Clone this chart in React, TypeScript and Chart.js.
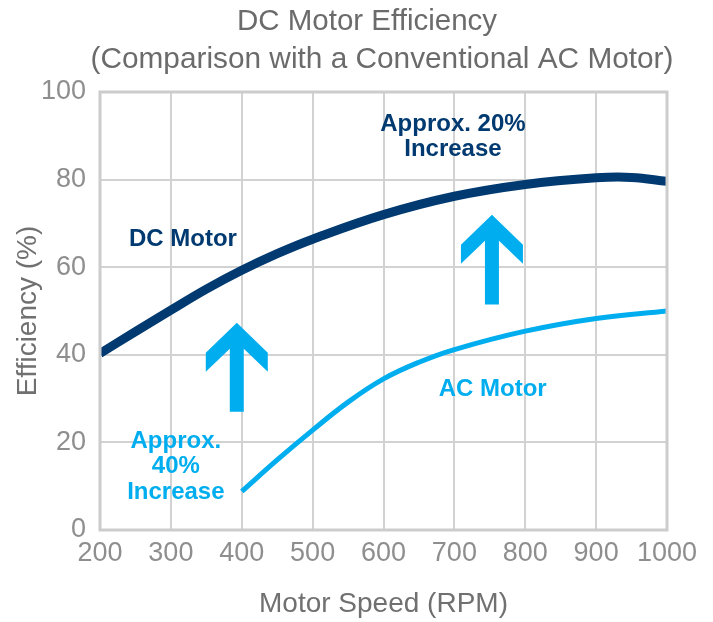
import React, { useEffect, useRef } from "react";
import { Chart, registerables } from "chart.js";

Chart.register(...registerables);

const TITLE = "DC Motor Efficiency";
const SUBTITLE = "(Comparison with a Conventional AC Motor)";
const X_TITLE = "Motor Speed (RPM)";
const Y_TITLE = "Efficiency (%)";

const DC_SPEED = [200, 250, 300, 350, 400, 450, 500, 600, 700, 800, 900, 950, 1000];
const DC_EFF = [40.3, 45.3, 50.2, 55.0, 59.3, 63.1, 66.4, 72.0, 76.2, 78.9, 80.4, 80.5, 79.6];

const AC_SPEED = [400, 450, 500, 550, 600, 650, 700, 800, 900, 1000];
const AC_EFF = [8.8, 16.0, 22.8, 29.2, 34.5, 38.3, 41.2, 45.4, 48.3, 50.0];

// Arrows: x (RPM), from (%) -> to (%)
const ARROW_X = [393, 753];
const ARROW_FROM = [27.0, 51.5];
const ARROW_TO = [47.3, 72.0];

// Annotations anchored in data coordinates
const NOTE_TEXT = [
  ["DC Motor"],
  ["Approx. 20%", "Increase"],
  ["AC Motor"],
  ["Approx.", "40%", "Increase"],
];
const NOTE_X = [317, 698, 754, 307];
const NOTE_Y = [66.4, 89.8, 32.0, 14.5];
const NOTE_COLOR = ["#003a70", "#003a70", "#00aeef", "#00aeef"];

const DARK = "#003a70";
const LIGHT = "#00aeef";
const FONT = "'Liberation Sans', Arial, Helvetica, sans-serif";

const titlePlugin = {
  id: "titles",
  afterDraw(chart: any) {
    const { ctx } = chart;
    ctx.save();
    ctx.fillStyle = "#6b6b6b";
    ctx.textAlign = "center";
    ctx.textBaseline = "middle";
    ctx.font = `29.5px ${FONT}`;
    ctx.fillText(TITLE, 367, 22);
    ctx.font = `29.8px ${FONT}`;
    ctx.fillText(SUBTITLE, 382, 60);
    ctx.restore();
  },
};

const framePlugin = {
  id: "frame",
  afterDatasetsDraw(chart: any) {
    const { ctx, chartArea } = chart;
    ctx.save();
    ctx.strokeStyle = "#cccccc";
    ctx.lineWidth = 3;
    ctx.strokeRect(chartArea.left, chartArea.top, chartArea.right - chartArea.left, chartArea.bottom - chartArea.top);
    ctx.restore();
  },
};

const arrowPlugin = {
  id: "arrows",
  afterDatasetsDraw(chart: any) {
    const { ctx, scales } = chart;
    const xs = scales.x;
    const ys = scales.y;
    ctx.save();
    ctx.fillStyle = LIGHT;
    for (let i = 0; i < ARROW_X.length; i++) {
      const cx = xs.getPixelForValue(ARROW_X[i]);
      const tip = ys.getPixelForValue(ARROW_TO[i]);
      const bot = ys.getPixelForValue(ARROW_FROM[i]);
      const sh = 7;
      const hw = 31;
      ctx.beginPath();
      ctx.moveTo(cx, tip);
      ctx.lineTo(cx - hw, tip + 30);
      ctx.lineTo(cx - hw, tip + 49);
      ctx.lineTo(cx - sh, tip + 26);
      ctx.lineTo(cx - sh, bot);
      ctx.lineTo(cx + sh, bot);
      ctx.lineTo(cx + sh, tip + 26);
      ctx.lineTo(cx + hw, tip + 49);
      ctx.lineTo(cx + hw, tip + 30);
      ctx.closePath();
      ctx.fill();
    }
    ctx.restore();
  },
};

const notePlugin = {
  id: "notes",
  afterDatasetsDraw(chart: any) {
    const { ctx, scales } = chart;
    ctx.save();
    ctx.font = `bold 24px ${FONT}`;
    ctx.textAlign = "center";
    ctx.textBaseline = "middle";
    const lh = 25.5;
    for (let i = 0; i < NOTE_TEXT.length; i++) {
      const lines = NOTE_TEXT[i];
      const cx = scales.x.getPixelForValue(NOTE_X[i]);
      const cy = scales.y.getPixelForValue(NOTE_Y[i]);
      ctx.fillStyle = NOTE_COLOR[i];
      const start = cy - ((lines.length - 1) * lh) / 2;
      lines.forEach((t, j) => ctx.fillText(t, cx, start + j * lh));
    }
    ctx.restore();
  },
};

export default function App() {
  const ref = useRef<HTMLCanvasElement | null>(null);

  useEffect(() => {
    if (!ref.current) return;
    const chart = new Chart(ref.current, {
      type: "line",
      data: {
        datasets: [
          {
            label: "DC Motor",
            data: DC_SPEED.map((x, i) => ({ x, y: DC_EFF[i] })),
            borderColor: DARK,
            borderWidth: 9,
            pointRadius: 0,
            tension: 0.4,
            clip: 0,
          },
          {
            label: "AC Motor",
            data: AC_SPEED.map((x, i) => ({ x, y: AC_EFF[i] })),
            borderColor: LIGHT,
            borderWidth: 5,
            pointRadius: 0,
            tension: 0.4,
            clip: 0,
          },
        ],
      },
      options: {
        responsive: false,
        animation: false,
        layout: { padding: { left: 0, right: 46, top: 92, bottom: 0 } },
        plugins: {
          legend: { display: false },
          tooltip: { enabled: false },
          title: { display: false },
        },
        scales: {
          x: {
            type: "linear",
            min: 200,
            max: 1000,
            ticks: {
              stepSize: 100,
              color: "#8e8e8e",
              font: { family: FONT, size: 27 },
              padding: 7,
              maxRotation: 0,
              callback: (v: any) => String(v),
            },
            grid: { color: "#d2d2d2", lineWidth: 2, drawTicks: false },
            border: { display: false },
            title: {
              display: true,
              text: X_TITLE,
              color: "#707070",
              font: { family: FONT, size: 28, lineHeight: 1.2 },
              padding: { top: 0, bottom: 1.2 },
            },
            afterFit(scale: any) {
              scale.height = 92;
            },
          },
          y: {
            min: 0,
            max: 100,
            ticks: {
              stepSize: 20,
              color: "#8e8e8e",
              font: { family: FONT, size: 27 },
              padding: 14,
            },
            grid: { color: "#d2d2d2", lineWidth: 2, drawTicks: false },
            border: { display: false },
            title: {
              display: true,
              text: Y_TITLE,
              color: "#707070",
              font: { family: FONT, size: 28, lineHeight: 1.2 },
              padding: { top: 11.2, bottom: 0 },
            },
            afterFit(scale: any) {
              scale.width = 100;
            },
          },
        },
      },
      plugins: [framePlugin, arrowPlugin, notePlugin, titlePlugin],
    } as any);
    return () => chart.destroy();
  }, []);

  return (
    <div style={{ position: "fixed", left: 0, top: 0, width: 713, height: 622, background: "#fff" }}>
      <canvas ref={ref} width={713} height={622} style={{ display: "block" }} />
    </div>
  );
}
